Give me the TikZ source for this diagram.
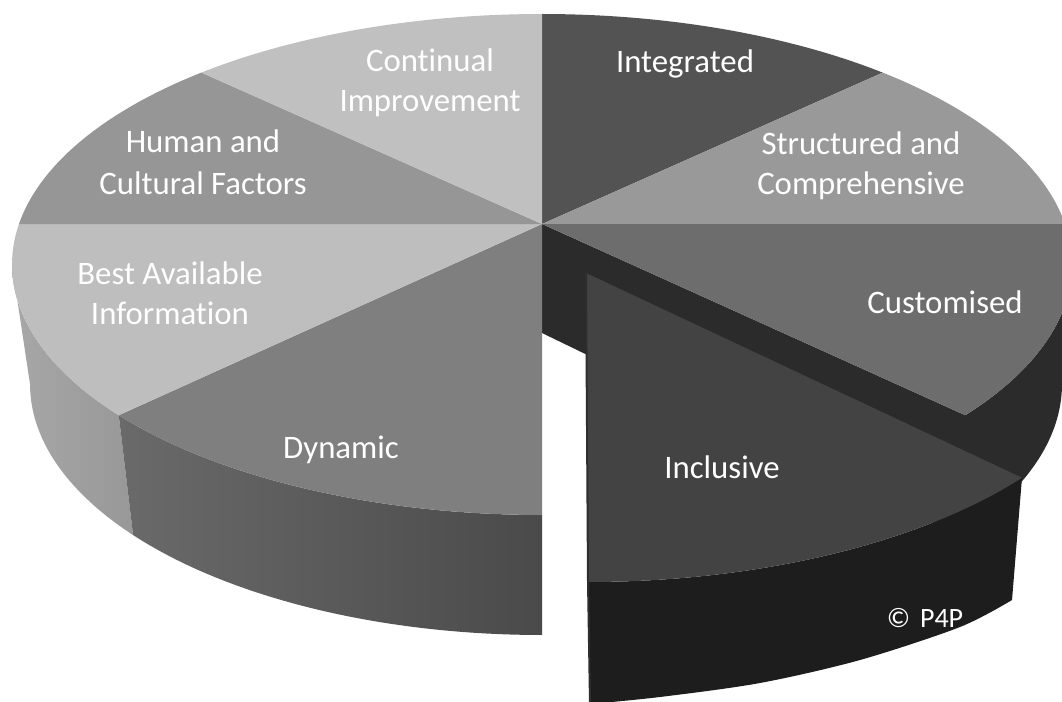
\documentclass[tikz,border=0pt]{standalone}
\usepackage{fontspec}
\setmainfont{Carlito}[Ligatures={NoCommon,NoRequired,NoContextual,NoRare},Contextuals=NoAlternate]

% slice colours (top faces)
\definecolor{topCont}{HTML}{C0C0C0}
\definecolor{topHum}{HTML}{969696}
\definecolor{topBest}{HTML}{BEBEBE}
\definecolor{topDyn}{HTML}{7F7F7F}
\definecolor{topInt}{HTML}{535353}
\definecolor{topStr}{HTML}{999999}
\definecolor{topCus}{HTML}{6D6D6D}
\definecolor{topInc}{HTML}{434343}
% side walls
\definecolor{sideBestL}{HTML}{A7A7A7}
\definecolor{sideBestR}{HTML}{989898}
\definecolor{sideDynL}{HTML}{6A6A6A}
\definecolor{sideDynR}{HTML}{4A4A4A}
\definecolor{sideCus}{HTML}{2B2B2B}
\definecolor{sideInc}{HTML}{1D1D1D}
\definecolor{edgeInc}{HTML}{2E2E2E}

% rim of the top face, rims of the bottom face (left and right parts),
% rim of the pulled-out slice
\newcommand\rimTop[2]{-- plot[domain=#1:#2,samples=60,variable=\t]({542+530*cos(\t)},{264.5+250.5*sin(\t)})}
\newcommand\rimBot[2]{-- plot[domain=#1:#2,samples=60,variable=\t]({542+512*cos(\t)},{384+251*sin(\t)})}
\newcommand\rimBotR[2]{-- plot[domain=#1:#2,samples=60,variable=\t]({550+512*cos(\t)},{384+251*sin(\t)})}
\newcommand\rimOut[2]{-- plot[domain=#1:#2,samples=60,variable=\t]({588+542*cos(\t)},{322+260*sin(\t)})}

\begin{document}
\begin{tikzpicture}[x=0.75pt,y=-0.75pt,
  lbl/.style={text=white, font=\fontsize{24.6}{30}\selectfont, inner sep=0pt, anchor=base},
  mark lbl/.style={text=white, font=\fontsize{21}{25}\selectfont, inner sep=0pt, anchor=base}]

\fill[white] (0,0) rectangle (1062,702);
\useasboundingbox (0,0) rectangle (1062,702);
\clip (0,0) rectangle (1062,702);

\coordinate (C) at (542,224);
\coordinate (Cb) at (542,333);

% ---- side walls of the pie
\shade[left color=sideBestL, right color=sideBestR]
  ({542+530*cos(143)},{264.5+250.5*sin(143)}) \rimTop{143}{180} \rimBot{180}{143} -- cycle;
\shade[left color=sideDynL, right color=sideDynR]
  (542,515) \rimTop{90}{143} \rimBot{143}{90} -- cycle;
% outer wall of Customised and the cut face left open by the pulled-out slice
\fill[sideCus]
  (1072,264.5) \rimTop{0}{37} \rimBotR{37}{0} -- cycle
  (C) -- ({542+530*cos(37)},{264.5+250.5*sin(37)})
      -- ({550+512*cos(37)},{384+251*sin(37)}) -- (Cb) -- cycle;

% ---- top faces
\fill[topInt]  (C) \rimTop{-90}{-50} -- cycle;
\fill[topStr]  (C) \rimTop{-50}{-9.3} -- cycle;
\fill[topCus]  (C) \rimTop{-9.3}{37} -- cycle;
\fill[topDyn]  (C) \rimTop{90}{143} -- cycle;
\fill[topBest] (C) \rimTop{143}{189.3} -- cycle;
\fill[topHum]  (C) \rimTop{189.3}{230} -- cycle;
\fill[topCont] (C) \rimTop{230}{270} -- cycle;

% ---- pulled-out slice
\coordinate (A) at (586,273);
\coordinate (Rb) at (1012,600);
\coordinate (Lb) at (590,704);
\fill[sideInc] (Rb) \rimOut{36.8}{90} -- (Lb)
  -- plot[smooth] coordinates {(590,704) (660,697) (760,683) (860,660) (960,627) (1012,600)} -- cycle;
\fill[topInc] (A) \rimOut{36.8}{90} -- cycle;
\draw[edgeInc, line width=1.5pt] (A) -- (588,582) -- (Lb);

% ---- labels (kerns keep "t" and "i" as separate letters)
\node[lbl] (cont1) at (430,72)  {Cont\kern0pt inual};
\node[lbl] (cont2) at (430,112) {Improvement};
\node[lbl] (hum1)  at (203,153) {Human and};
\node[lbl] (hum2)  at (203,195) {Cultural Factors};
\node[lbl] (best1) at (170,284) {Best Available};
\node[lbl] (best2) at (170,324) {Informat\kern0pt ion};
\node[lbl] (int)   at (685,73)  {Integrated};
\node[lbl] (str1)  at (861,155) {Structured and};
\node[lbl] (str2)  at (861,195) {Comprehensive};
\node[lbl] (cus)   at (945,313) {Customised};
\node[lbl] (inc)   at (722,478) {Inclusive};
\node[lbl] (dyn)   at (341,458) {Dynamic};
\node[mark lbl] (copy) at (925,627) {©\hspace{0.35em}P4P};
\end{tikzpicture}
\end{document}
